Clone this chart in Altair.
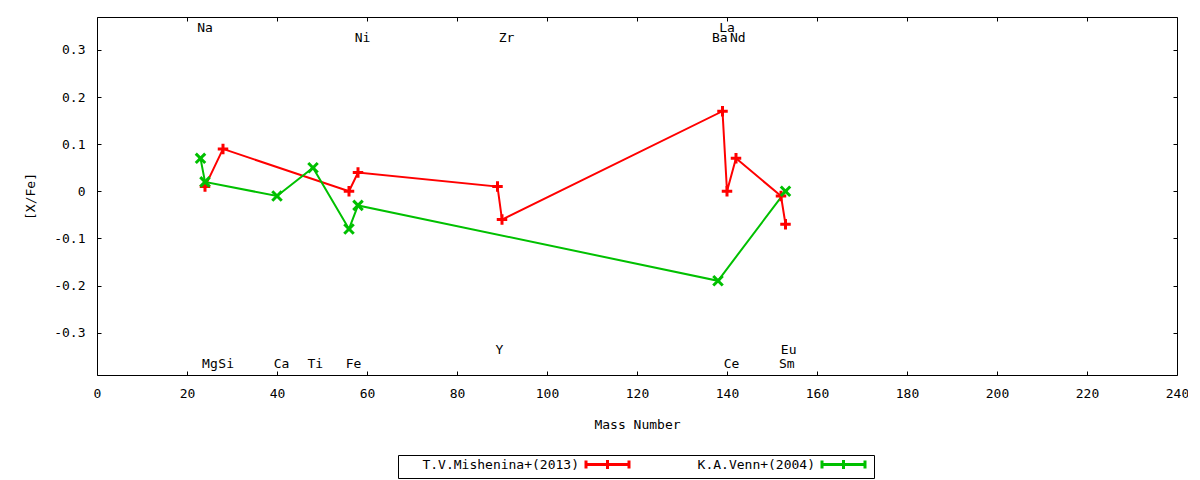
import altair as alt
import pandas as pd

FONT = "DejaVu Sans Mono"

series_names = ["T.V.Mishenina+(2013)", "K.A.Venn+(2004)"]
series_colors = ["#ff0000", "#00c000"]

mish_mass = [24, 28, 56, 58, 89, 90, 139, 140, 142, 152, 153]
mish_xfe = [0.01, 0.09, 0.00, 0.04, 0.01, -0.06, 0.17, 0.00, 0.07, -0.01, -0.07]

venn_mass = [23, 24, 40, 48, 56, 58, 138, 153]
venn_xfe = [0.07, 0.02, -0.01, 0.05, -0.08, -0.03, -0.19, 0.00]

top_names = ["Na", "La", "Ni", "Zr", "Ba", "Nd"]
top_x = [24, 140, 59, 91, 138.4, 142.4]
top_y = [0.347, 0.347, 0.326, 0.326, 0.326, 0.326]

bot_names = ["Mg", "Si", "Ca", "Ti", "Fe", "Y", "Ce", "Sm", "Eu"]
bot_x = [25.1, 28.7, 41, 48.5, 57, 89.4, 141, 153.3, 153.7]
bot_y = [-0.366, -0.366, -0.366, -0.366, -0.366, -0.336, -0.366, -0.366, -0.336]

x_ticks = [0, 20, 40, 60, 80, 100, 120, 140, 160, 180, 200, 220, 240]
y_ticks = [-0.3, -0.2, -0.1, 0.0, 0.1, 0.2, 0.3]

rows = []
for i, (m, v) in enumerate(zip(mish_mass, mish_xfe)):
    rows.append({"series": series_names[0], "mass": m, "xfe": v, "idx": i})
for i, (m, v) in enumerate(zip(venn_mass, venn_xfe)):
    rows.append({"series": series_names[1], "mass": m, "xfe": v, "idx": i})
df = pd.DataFrame(rows)

labels_df = pd.DataFrame({
    "name": top_names + bot_names,
    "x": top_x + bot_x,
    "y": top_y + bot_y,
})

xs = alt.Scale(domain=[0, 240], nice=False, zero=False)
ys = alt.Scale(domain=[-0.39, 0.37], nice=False, zero=False)

# legend sample: line with end caps and a marker in the middle (unit = 5px)
LEG_SYM = "M-4.3,0H4.3M-4.3,-0.8V0.8M4.3,-0.8V0.8M0,-0.9V0.9M-0.5,0H0.5"

legend = alt.Legend(
    title=None, orient="none", legendX=301, legendY=438,
    direction="horizontal", columns=2,
    strokeColor="black", padding=3, cornerRadius=0, fillColor="white",
    symbolType=LEG_SYM, symbolSize=100, symbolStrokeWidth=3,
    symbolFillColor="transparent", symbolOffset=200,
    labelAlign="right", labelOffset={"expr": "-35"}, columnPadding=2, labelLimit=400,
    labelFont=FONT, labelFontSize=13, labelColor="black",
)

lines = alt.Chart(df).mark_line(strokeWidth=2).encode(
    x=alt.X("mass:Q", scale=xs, axis=alt.Axis(
        orient="bottom", values=x_ticks, format="d", ticks=False, tickSize=0,
        domain=False, grid=False, labelPadding=12, labelFlush=False, labelOverlap=False,
        title="Mass Number", titlePadding=18)),
    y=alt.Y("xfe:Q", scale=ys, axis=alt.Axis(
        orient="left", values=y_ticks, ticks=False, tickSize=0, domain=False, grid=False,
        labelPadding=12, labelOverlap=False,
        labelExpr="datum.value < 0 ? '-' + format(-datum.value, '.1~f') : format(datum.value, '.1~f')",
        title="[X/Fe]", titlePadding=16)),
    color=alt.Color("series:N", scale=alt.Scale(domain=series_names, range=series_colors), legend=legend),
    order="idx:Q",
)

tick_ax = dict(labels=False, domain=False, ticks=True, tickSize=4, offset=-4, title=None, grid=False)

red_pts = alt.Chart(df).transform_filter(
    alt.datum.series == series_names[0]
).mark_point(shape="M-1,0H1M0,-1V1", filled=False, strokeWidth=3, size=110,
             color=series_colors[0], opacity=1).encode(
    x=alt.X("mass:Q", scale=xs, axis=alt.Axis(orient="bottom", values=x_ticks, **tick_ax)),
    y=alt.Y("xfe:Q", scale=ys, axis=alt.Axis(orient="left", values=y_ticks, **tick_ax)),
)

grn_pts = alt.Chart(df).transform_filter(
    alt.datum.series == series_names[1]
).mark_point(shape="M-1,-1L1,1M-1,1L1,-1M-0.5,0H0.5", filled=False, strokeWidth=3, size=90,
             color=series_colors[1], opacity=1).encode(
    x=alt.X("mass:Q", scale=xs, axis=alt.Axis(orient="top", values=x_ticks, **tick_ax)),
    y=alt.Y("xfe:Q", scale=ys, axis=alt.Axis(orient="right", values=y_ticks, **tick_ax)),
)

texts = alt.Chart(labels_df).mark_text(
    font=FONT, fontSize=13, color="black", baseline="middle", align="center"
).encode(
    x=alt.X("x:Q", scale=xs, axis=None),
    y=alt.Y("y:Q", scale=ys, axis=None),
    text="name:N",
)

chart = alt.layer(lines, red_pts, grn_pts, texts).resolve_axis(
    x="independent", y="independent"
).properties(
    width=1080, height=358,
    padding={"left": 89, "top": 9, "right": 11, "bottom": 105},
    autosize=alt.AutoSizeParams(type="none"),
).configure_view(
    stroke="black", strokeWidth=1
).configure_axis(
    labelFont=FONT, titleFont=FONT, labelFontSize=13, titleFontSize=13,
    titleFontWeight="normal", labelColor="black", titleColor="black",
    tickColor="black", tickWidth=1,
)

chart.save("out.html", embed_options={"renderer": "svg", "actions": False})
